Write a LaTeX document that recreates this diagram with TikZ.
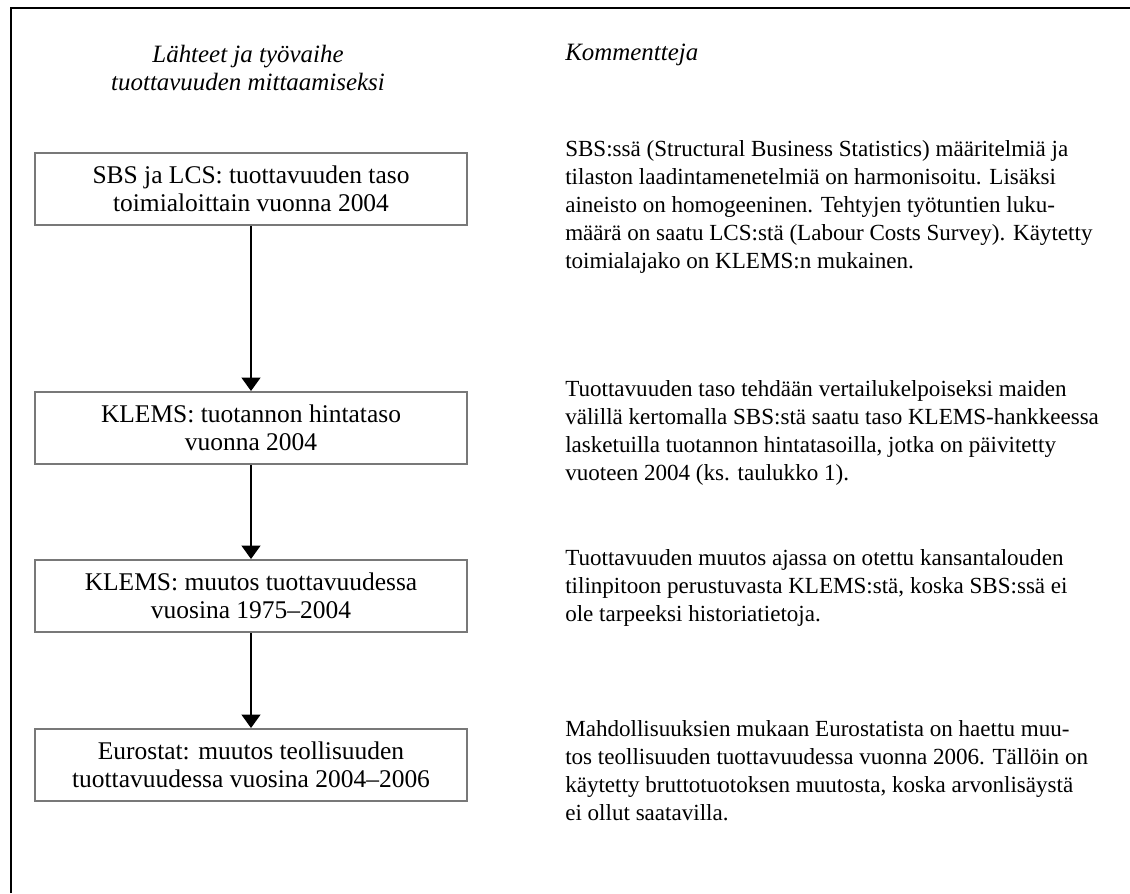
\documentclass[tikz,border=0pt]{standalone}
\usepackage{fontspec}
\setmainfont{Liberation Serif}
\usetikzlibrary{arrows.meta}
\newcommand{\txtsize}{\fontsize{19.1}{21}\selectfont}
\newcommand{\notesize}{\fontsize{17.3}{21}\selectfont}

\begin{document}
\begin{tikzpicture}[x=0.75pt,y=0.75pt,yscale=-1,xscale=1,
  stagebox/.style={draw={rgb,255:red,120;green,120;blue,120},line width=1.5pt,minimum width=324pt,minimum height=54pt,align=center,inner sep=0pt,font=\txtsize},
  note/.style={anchor=north west,align=left,inner sep=0pt,font=\notesize},
  flow/.style={-{Triangle[width=14pt,length=10pt]},line width=1.5pt}]
\useasboundingbox (0,0) rectangle (1130,893);

%Frame
\draw [line width=1.5pt] (10.7,893) -- (10.7,8.3) -- (1130,8.3) ;

% Text Node
\node (hdleft) [align=center,font=\fontsize{18.7}{21}\selectfont\itshape] at (248,68) {Lähteet ja työvaihe\\tuottavuuden mittaamiseksi};
% Text Node
\node (hdright) [anchor=west,inner sep=0pt,font=\fontsize{18.7}{21}\selectfont\itshape] at (565,55) {Kommentteja};

% Boxes
\node (sbs) [stagebox] at (251,189) {SBS ja LCS: tuottavuuden taso\\toimialoittain vuonna 2004};
\node (hinta) [stagebox] at (251,428) {KLEMS: tuotannon hintataso\\vuonna 2004};
\node (muutos) [stagebox] at (251,596) {KLEMS: muutos tuottavuudessa\\vuosina 1975--2004};
\node (euro) [stagebox] at (251,765) {Eurostat: muutos teollisuuden\\tuottavuudessa vuosina 2004--2006};

%Straight Lines
\draw [flow] (sbs) -- (hinta) ;
\draw [flow] (hinta) -- (muutos) ;
\draw [flow] (muutos) -- (euro) ;

% Text Node
\node (ksbs) [note] at (565,140) {SBS:ssä (Structural Business Statistics) määritelmiä ja\\tilaston laadintamenetelmiä on harmonisoitu. Lisäksi\\aineisto on homogeeninen. Tehtyjen työtuntien luku-\\määrä on saatu LCS:stä (Labour Costs Survey). Käytetty\\toimialajako on KLEMS:n mukainen.};
% Text Node
\node (khinta) [note] at (565,380) {Tuottavuuden taso tehdään vertailukelpoiseksi maiden\\välillä kertomalla SBS:stä saatu taso KLEMS-hankkeessa\\lasketuilla tuotannon hintatasoilla, jotka on päivitetty\\vuoteen 2004 (ks. taulukko 1).};
% Text Node
\node (kmuutos) [note] at (565,549) {Tuottavuuden muutos ajassa on otettu kansantalouden\\tilinpitoon perustuvasta KLEMS:stä, koska SBS:ssä ei\\ole tarpeeksi historiatietoja.};
% Text Node
\node (keuro) [note] at (565,720) {Mahdollisuuksien mukaan Eurostatista on haettu muu-\\tos teollisuuden tuottavuudessa vuonna 2006. Tällöin on\\käytetty bruttotuotoksen muutosta, koska arvonlisäystä\\ei ollut saatavilla.};

\end{tikzpicture}
\end{document}
